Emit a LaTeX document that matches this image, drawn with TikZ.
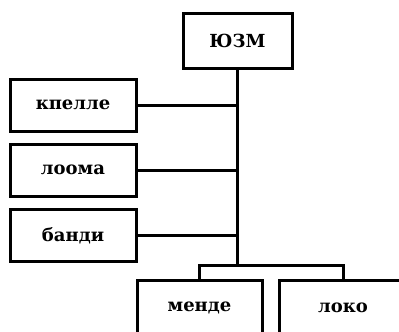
\documentclass[tikz,border=0pt]{standalone}
\usepackage{fontspec}
\setmainfont{DejaVu Serif}
\usetikzlibrary{positioning}
\begin{document}
\begin{tikzpicture}[x=1pt,y=-1pt,line join=miter,font=\bfseries\fontsize{18}{20}\selectfont,
  box/.style={draw,line width=3pt,inner sep=0pt},
  link/.style={line width=3pt}]
\useasboundingbox (0,0) rectangle (399,332);
\clip (0,0) rectangle (399,332);
\node[box,minimum width=109pt,minimum height=55pt] (yuzm) at (237.5,40.5) {ЮЗМ};
\foreach \n/\t/\y in {kpelle/кпелле/105,looma/лоома/170,bandi/банди/235.5}
  \node[box,minimum width=126pt,minimum height=52pt] (\n) at (73,\y) {\t};
\node[box,minimum width=125pt,minimum height=55pt] (mende) at (199.5,307.5) {менде};
\node[box,minimum width=128pt,minimum height=55pt] (loko) at (343,307.5) {локо};
\coordinate (fork) at (237.5,265);
\draw[link] (yuzm.south) -- (fork);
\foreach \n in {kpelle,looma,bandi}{\draw[link] (\n.east) -- (\n.east -| fork);}
\draw[link] (mende.north) |- (fork) -| (loko.north);
\end{tikzpicture}
\end{document}
